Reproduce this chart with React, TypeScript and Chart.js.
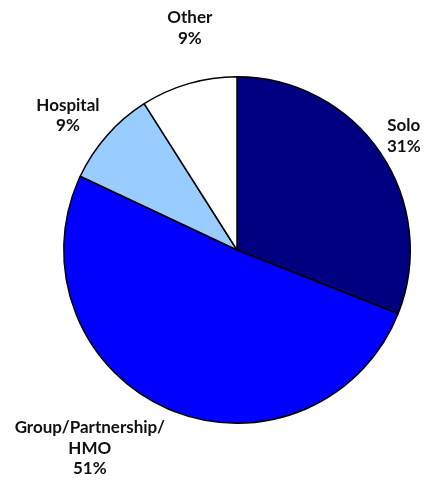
import React, { useEffect, useRef } from "react";
import { Chart, registerables } from "chart.js";

Chart.register(...registerables);

const categories = ["Solo", "Group/Partnership/HMO", "Hospital", "Other"];
const values = [31, 51, 9, 9];
const labelLines = [["Solo", "31%"], ["Group/Partnership/", "HMO", "51%"], ["Hospital", "9%"], ["Other", "9%"]];
const colors = ["#000080", "#0000FF", "#99CCFF", "#FFFFFF"];
// label placement: angle from top (deg, clockwise) and distance in radii
const labelAngles = [55.6, 216.6, 308.5, 348.0];
const labelDist = [1.167, 1.425, 1.247, 1.31];

const labelPlugin = {
  id: "outLabels",
  afterDatasetsDraw(chart: any) {
    const ctx = chart.ctx;
    const meta = chart.getDatasetMeta(0);
    ctx.save();
    ctx.font = "bold 17px Lato";
    ctx.fillStyle = "#111";
    ctx.textAlign = "center";
    ctx.textBaseline = "middle";
    meta.data.forEach((arc: any, i: number) => {
      const r = arc.outerRadius * labelDist[i];
      const a = (labelAngles[i] * Math.PI) / 180;
      const cx = arc.x + r * Math.sin(a);
      const cy = arc.y - r * Math.cos(a);
      const lines = labelLines[i];
      const lh = 20.5;
      lines.forEach((t, j) => {
        ctx.fillText(t, cx, cy + (j - (lines.length - 1) / 2) * lh);
      });
    });
    ctx.restore();
  },
};

export default function App() {
  const ref = useRef<HTMLCanvasElement>(null);
  useEffect(() => {
    const chart = new Chart(ref.current!, {
      type: "pie",
      data: {
        labels: categories,
        datasets: [
          {
            data: values,
            backgroundColor: colors,
            borderColor: "#000",
            borderWidth: 1.5,
          },
        ],
      },
      options: {
        animation: false,
        responsive: false,
        layout: { padding: { left: 63, right: 13, top: 76, bottom: 56 } },
        plugins: { legend: { display: false }, tooltip: { enabled: false } },
      },
      plugins: [labelPlugin],
    });
    return () => chart.destroy();
  }, []);
  return (
    <div style={{ position: "fixed", left: 0, top: 0, width: 424, height: 480, background: "#fff" }}>
      <canvas ref={ref} width={424} height={480} style={{ width: 424, height: 480 }} />
    </div>
  );
}
